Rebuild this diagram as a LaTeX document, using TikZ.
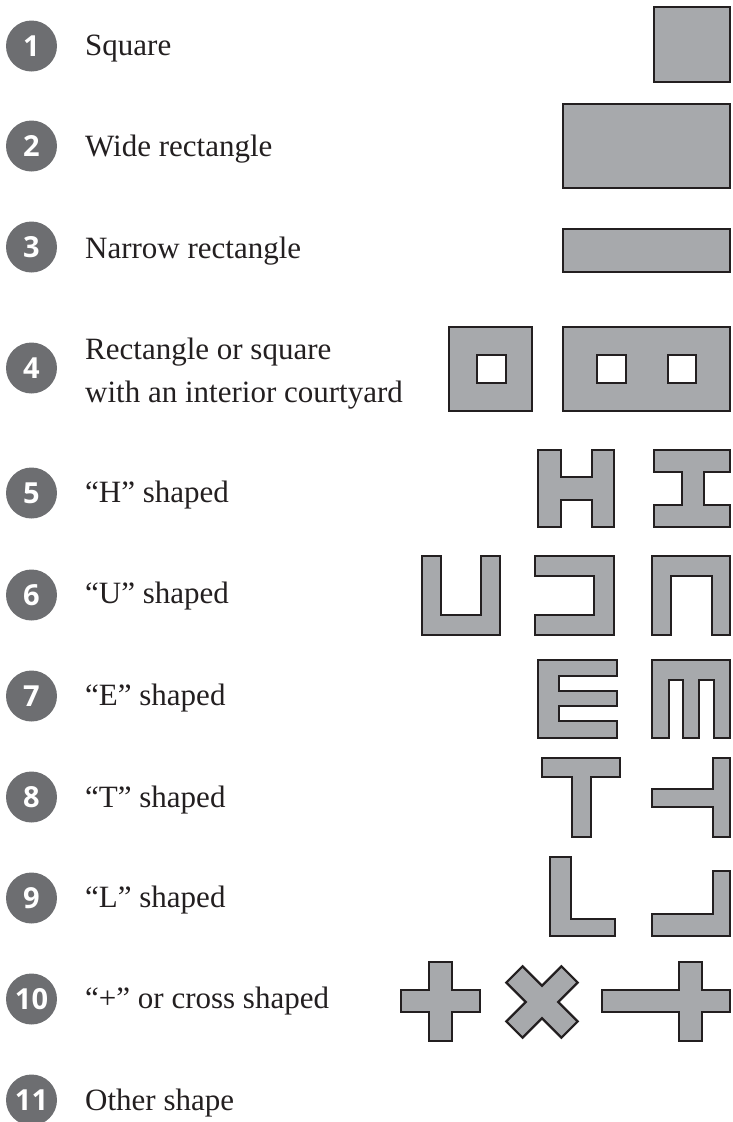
\documentclass[tikz,border=0pt]{standalone}
\usepackage{fontspec}
\setmainfont{Liberation Serif}
\newfontfamily\numfont{Open Sans}
\definecolor{shapefill}{HTML}{A7A9AC}
\definecolor{shapeline}{HTML}{231F20}
\definecolor{badge}{HTML}{6D6E71}
\begin{document}
\begin{tikzpicture}[x=1pt,y=-1pt,
  bld/.style={fill=shapefill,draw=shapeline,line width=2.2pt,line join=miter},
  hole/.style={fill=white,draw=shapeline,line width=2.2pt},
  badgecircle/.style={circle,fill=badge,minimum size=51pt,inner sep=0pt,
    text=white,font=\numfont\bfseries\fontsize{29}{29}\selectfont},
  lbl/.style={anchor=base west,inner sep=0pt,text=shapeline,
    font=\fontsize{31}{37}\selectfont,align=left}]
\useasboundingbox (0,0) rectangle (732,1122);
% badges
\foreach \n/\y in {1/46,2/146,3/247,4/368,5/493,6/595,7/696,8/797,9/898,10/999,11/1100}
  \node[badgecircle] (b\n) at (31.5,\y) {\n};
% labels
\node[lbl] (t1) at (85,55) {Square};
\node[lbl] (t2) at (85,156) {Wide rectangle};
\node[lbl] (t3) at (85,258) {Narrow rectangle};
\node[lbl] (t4a) at (85,359) {Rectangle or square};
\node[lbl] (t4b) at (85,402) {with an interior courtyard};
\node[lbl] (t5) at (85,502) {“H” shaped};
\node[lbl] (t6) at (85,603) {“U” shaped};
\node[lbl] (t7) at (85,705) {“E” shaped};
\node[lbl] (t8) at (85,807) {“T” shaped};
\node[lbl] (t9) at (85,907) {“L” shaped};
\node[lbl] (t10) at (85,1008) {“+” or cross shaped};
\node[lbl] (t11) at (85,1110) {Other shape};
% row 1-3
\draw[bld] (654,7) rectangle (730,82);
\draw[bld] (563,104) rectangle (730,188);
\draw[bld] (563,229) rectangle (730,272);
% row 4
\draw[bld] (449,327) rectangle (532,411);
\draw[hole] (477,355) rectangle (506,383);
\draw[bld] (563,327) rectangle (730,411);
\draw[hole] (597,355) rectangle (626,383);
\draw[hole] (668,355) rectangle (696,383);
% row 5
\draw[bld] (538,450)--(561,450)--(561,477)--(592,477)--(592,450)--(614,450)--(614,527)--(592,527)--(592,500)--(561,500)--(561,527)--(538,527)--cycle;
\draw[bld] (654,450)--(730,450)--(730,472)--(704,472)--(704,505)--(730,505)--(730,527)--(654,527)--(654,505)--(682,505)--(682,472)--(654,472)--cycle;
% row 6
\draw[bld] (422,556)--(441,556)--(441,615)--(481,615)--(481,556)--(500,556)--(500,635)--(422,635)--cycle;
\draw[bld] (535,556)--(614,556)--(614,635)--(535,635)--(535,615)--(594,615)--(594,576)--(535,576)--cycle;
\draw[bld] (652,635)--(652,556)--(730,556)--(730,635)--(712,635)--(712,576)--(671,576)--(671,635)--cycle;
% row 7
\draw[bld] (538,660)--(617,660)--(617,676)--(559,676)--(559,691)--(617,691)--(617,706)--(559,706)--(559,721)--(617,721)--(617,738)--(538,738)--cycle;
\draw[bld] (652,738)--(652,660)--(730,660)--(730,738)--(714,738)--(714,680)--(699,680)--(699,738)--(683,738)--(683,680)--(669,680)--(669,738)--cycle;
% row 8
\draw[bld] (542,758)--(620,758)--(620,777)--(591,777)--(591,837)--(572,837)--(572,777)--(542,777)--cycle;
\draw[bld] (713,758)--(730,758)--(730,837)--(713,837)--(713,807)--(652,807)--(652,789)--(713,789)--cycle;
% row 9
\draw[bld] (550,857)--(571,857)--(571,919)--(615,919)--(615,936)--(550,936)--cycle;
\draw[bld] (713,871)--(730,871)--(730,936)--(652,936)--(652,914)--(713,914)--cycle;
% row 10
\draw[bld] (429,962)--(452,962)--(452,990)--(480,990)--(480,1012)--(452,1012)--(452,1041)--(429,1041)--(429,1012)--(401,1012)--(401,990)--(429,990)--cycle;
\begin{scope}[shift={(542,1002)},rotate=45]
\draw[bld] (-11.5,-39)--(11.5,-39)--(11.5,-11.5)--(39,-11.5)--(39,11.5)--(11.5,11.5)--(11.5,39)--(-11.5,39)--(-11.5,11.5)--(-39,11.5)--(-39,-11.5)--(-11.5,-11.5)--cycle;
\end{scope}
\draw[bld] (602,990)--(679,990)--(679,962)--(702,962)--(702,990)--(730,990)--(730,1012)--(702,1012)--(702,1041)--(679,1041)--(679,1012)--(602,1012)--cycle;
\end{tikzpicture}
\end{document}
